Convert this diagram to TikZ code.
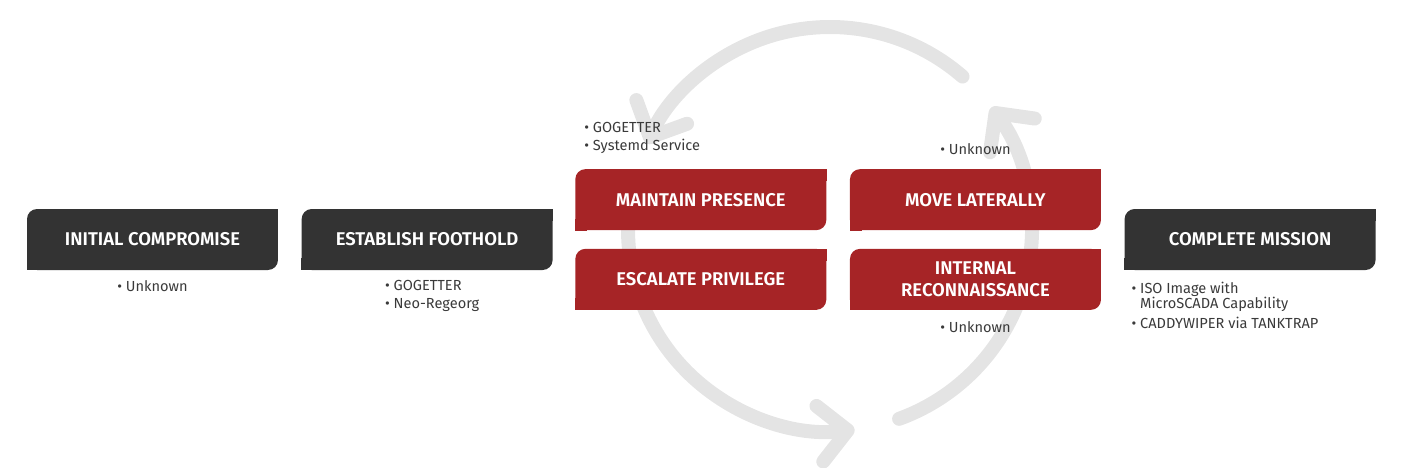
\documentclass[tikz,border=0pt]{standalone}
\usepackage{fontspec}
\setmainfont{Fira Sans}
\newfontfamily\stagefont{Fira Sans SemiBold}
\usepackage{tikz}
\usetikzlibrary{positioning, arrows.meta, calc, backgrounds}
\definecolor{slate}{HTML}{333333}
\definecolor{crimson}{HTML}{A62426}
\definecolor{ink}{HTML}{3A3A3A}
\definecolor{ringgrey}{HTML}{E4E4E4}

\begin{document}
\begin{tikzpicture}[x=0.02cm, y=0.02cm, node distance=0.46cm]
  \tikzset{stagebox/.style={fill=slate, text=white, rounded corners=0.2cm, minimum width=5.02cm, minimum height=1.22cm, inner sep=0pt, align=center, font=\stagefont\fontsize{10.5}{12.5}\selectfont}, cyclebox/.style={stagebox, fill=crimson}, note/.style={text=ink, align=left, inner sep=0pt, font=\fontsize{8.3}{10.2}\selectfont}, cyclearrow/.style={draw=ringgrey, line width=0.28cm, line cap=round, -{Straight Barb[length=0.56cm, width=1.12cm, round]}}}
  \useasboundingbox (0,0) rectangle (1403,-467);
  \node[stagebox] (init) at (152.5,-239.5) {INITIAL COMPROMISE};
  \node[stagebox, right=of init] (foothold) {ESTABLISH FOOTHOLD};
  \node[cyclebox, above right=0.18cm and 0.44cm of foothold.east] (presence) {MAINTAIN PRESENCE};
  \node[cyclebox, below right=0.18cm and 0.44cm of foothold.east] (privilege) {ESCALATE PRIVILEGE};
  \node[cyclebox, right=of presence] (lateral) {MOVE LATERALLY};
  \node[cyclebox, right=of privilege] (recon) {INTERNAL\\RECONNAISSANCE};
  \coordinate (pivot) at (foothold.east -| recon.east);
  \node[stagebox, right=of pivot] (mission) {COMPLETE MISSION};
  % square off the other two corners
  \foreach \n/\c in {init/slate, foothold/slate, presence/crimson, privilege/crimson, lateral/crimson, recon/crimson, mission/slate}
    {\fill[\c] (\n.north east) rectangle ++(-12,-12); \fill[\c] (\n.south west) rectangle ++(12,12);}
  % tools per stage
  \node[note, below=0.2cm of init] (initnote) {• Unknown};
  \node[note, below=0.2cm of foothold, xshift=0.1cm] (footholdnote) {• GOGETTER\\• Neo-Regeorg};
  \node[note, above right=0.3cm and 0.18cm of presence.north west] (presencenote) {• GOGETTER\\• Systemd Service};
  \node[note, above=0.28cm of lateral] (lateralnote) {• Unknown};
  \node[note, below=0.22cm of recon] (reconnote) {• Unknown};
  \node[note, below right=0.22cm and 0.14cm of mission.south west, font=\fontsize{8.3}{8.6}\selectfont] (missionnote) {• ISO Image with\\\phantom{• }MicroSCADA Capability\\[3pt]• CADDYWIPER via TANKTRAP};
  \begin{scope}[on background layer]
    \coordinate (hub) at (830,-229);
    \draw[cyclearrow] (hub) ++(49:202) arc[start angle=49, end angle=155, radius=202];
    \draw[cyclearrow] (hub) ++(168:202) arc[start angle=168, end angle=277, radius=202];
    \draw[cyclearrow] (hub) ++(290:202) arc[start angle=290, end angle=397, radius=202];
  \end{scope}
\end{tikzpicture}
\end{document}
